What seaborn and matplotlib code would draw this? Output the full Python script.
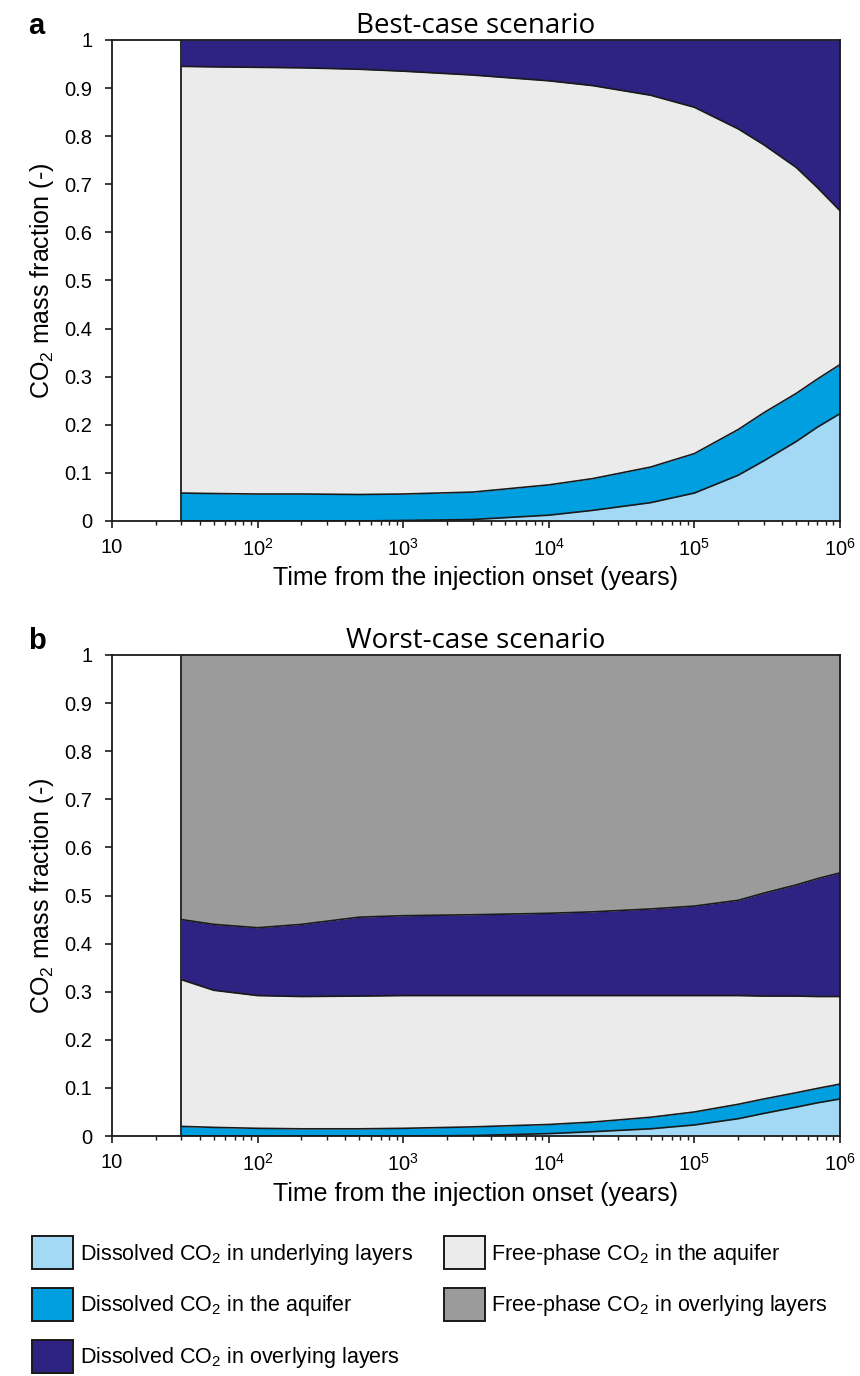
import matplotlib
matplotlib.use("Agg")
import matplotlib.pyplot as plt
from matplotlib.patches import Patch
import seaborn as sns
import numpy as np

# time points (years)
years = [30, 50, 100, 200, 500, 1e3, 3e3, 1e4, 2e4, 5e4, 1e5, 2e5, 3e5, 5e5, 7e5, 1e6]

# mass fractions per component, best-case (panel a)
best_under = [0, 0, 0, 0, 0, 0.001, 0.003, 0.012, 0.022, 0.038, 0.058, 0.095, 0.125, 0.165, 0.195, 0.223]
best_aq_diss = [0.058, 0.057, 0.056, 0.056, 0.055, 0.055, 0.057, 0.063, 0.066, 0.074, 0.082, 0.095, 0.100, 0.100, 0.100, 0.102]
best_aq_free = [0.887, 0.887, 0.887, 0.886, 0.884, 0.879, 0.867, 0.840, 0.817, 0.773, 0.720, 0.625, 0.557, 0.470, 0.398, 0.320]
best_over_diss = [0.055, 0.056, 0.057, 0.058, 0.061, 0.065, 0.073, 0.085, 0.095, 0.115, 0.140, 0.185, 0.218, 0.265, 0.307, 0.355]
best_over_free = [0] * 16

# worst-case (panel b)
worst_under = [0, 0, 0, 0, 0, 0, 0.001, 0.005, 0.009, 0.015, 0.023, 0.036, 0.047, 0.060, 0.069, 0.077]
worst_aq_diss = [0.020, 0.018, 0.016, 0.015, 0.015, 0.016, 0.018, 0.019, 0.020, 0.024, 0.027, 0.030, 0.030, 0.030, 0.030, 0.031]
worst_aq_free = [0.305, 0.285, 0.276, 0.275, 0.276, 0.276, 0.273, 0.268, 0.263, 0.253, 0.242, 0.226, 0.214, 0.201, 0.191, 0.182]
worst_over_diss = [0.125, 0.137, 0.141, 0.150, 0.164, 0.166, 0.168, 0.171, 0.174, 0.180, 0.186, 0.198, 0.214, 0.231, 0.245, 0.257]
worst_over_free = [0.550, 0.560, 0.567, 0.560, 0.545, 0.542, 0.540, 0.537, 0.534, 0.528, 0.522, 0.510, 0.495, 0.478, 0.465, 0.453]

labels = ["Dissolved CO$_2$ in underlying layers",
          "Dissolved CO$_2$ in the aquifer",
          "Dissolved CO$_2$ in overlying layers",
          "Free-phase CO$_2$ in the aquifer",
          "Free-phase CO$_2$ in overlying layers"]
colors = ["#a3d9f5", "#009fe0", "#2e2382", "#ebebeb", "#9b9b9b"]
# stacking order from the bottom up
stack_order = [0, 1, 3, 2, 4]

xtick_vals = [10, 1e2, 1e3, 1e4, 1e5, 1e6]
xtick_labels = ["10", "$10^2$", "$10^3$", "$10^4$", "$10^5$", "$10^6$"]
ytick_vals = [0, 0.1, 0.2, 0.3, 0.4, 0.5, 0.6, 0.7, 0.8, 0.9, 1]
ytick_labels = ["0", "0.1", "0.2", "0.3", "0.4", "0.5", "0.6", "0.7", "0.8", "0.9", "1"]

sns.set_theme(style="ticks")
plt.rcParams['font.family'] = ['Liberation Sans', 'DejaVu Sans']
plt.rcParams['mathtext.fontset'] = 'custom'
plt.rcParams['mathtext.rm'] = 'Liberation Sans'
plt.rcParams['mathtext.it'] = 'Liberation Sans'
plt.rcParams['text.color'] = 'black'
plt.rcParams['axes.labelcolor'] = 'black'
plt.rcParams['xtick.color'] = 'black'
plt.rcParams['ytick.color'] = 'black'

fig = plt.figure(figsize=(8.6, 13.76), dpi=100)
ax_a = fig.add_axes([0.1302, 0.6214, 0.8465, 0.3496])
ax_b = fig.add_axes([0.1302, 0.1744, 0.8465, 0.3496])


def draw_panel(ax, comps, title, letter):
    t = np.array(years)
    lower = np.zeros(len(t))
    for idx in stack_order:
        upper = lower + np.array(comps[idx])
        ax.fill_between(t, lower, upper, color=colors[idx], linewidth=0)
        if np.any(comps[idx]) and upper.max() < 0.999:
            sns.lineplot(x=t, y=upper, color="#1a1a1a", linewidth=1.2, ax=ax)
        lower = upper
    ax.vlines(t[0], 0, 1, color="#1a1a1a", linewidth=1.3)
    ax.set_xscale("log")
    ax.set_xlim(10, 1e6)
    ax.set_ylim(0, 1)
    ax.set_xticks(xtick_vals)
    ax.set_xticklabels(xtick_labels, fontsize=14.5)
    ax.set_yticks(ytick_vals)
    ax.set_yticklabels(ytick_labels, fontsize=14.5)
    ax.tick_params(axis="both", which="major", length=5, width=1.2, color="#1a1a1a")
    ax.tick_params(axis="x", which="major", pad=7)
    ax.tick_params(axis="y", which="major", pad=9)
    ax.tick_params(axis="x", which="minor", length=3, width=1, color="#1a1a1a")
    for sp in ax.spines.values():
        sp.set_visible(True)
        sp.set_linewidth(1.3)
        sp.set_color("#1a1a1a")
    ax.set_xlabel("Time from the injection onset (years)", fontsize=18, labelpad=5)
    ax.set_ylabel("CO$_2$ mass fraction (-)", fontsize=18, labelpad=6)
    ax.set_title(title, fontsize=20, pad=4, family=["Open Sans", "DejaVu Sans"])
    ax.text(-0.115, 1.0, letter, transform=ax.transAxes, fontsize=21,
            fontweight="bold", va="bottom")


draw_panel(ax_a, [best_under, best_aq_diss, best_over_diss, best_aq_free, best_over_free],
           "Best-case scenario", "a")
draw_panel(ax_b, [worst_under, worst_aq_diss, worst_over_diss, worst_aq_free, worst_over_free],
           "Worst-case scenario", "b")

handles = [Patch(facecolor=c, edgecolor="#1a1a1a", linewidth=1.4) for c in colors]
fig.legend(handles, labels, loc="upper left", bbox_to_anchor=(0.025, 0.1095), ncol=2,
           frameon=False, borderpad=0, handlelength=1.9, handleheight=2.0,
           handletextpad=0.3, labelspacing=0.86, columnspacing=1.45,
           prop={"size": 15.5})

fig.savefig("out.png", dpi=100)
